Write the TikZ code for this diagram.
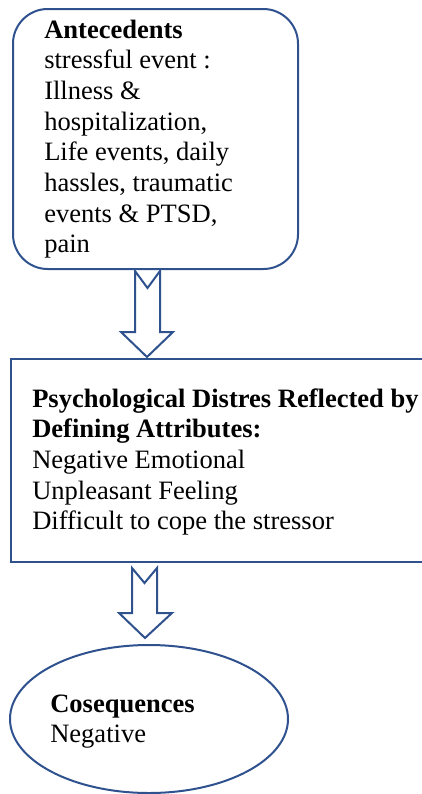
\documentclass[tikz,border=0pt]{standalone}
\usepackage{fontspec}
\setmainfont{Liberation Serif}
\usetikzlibrary{shapes.geometric}
\definecolor{frame}{HTML}{2F528F}
\begin{document}
\begin{tikzpicture}[x=0.75pt,y=-0.75pt,
  box/.style={draw=frame,line width=1.5pt,inner sep=0pt},
  txt/.style={anchor=north west,align=left,inner sep=0pt,font=\fontsize{19.9}{23}\selectfont},
  blockarrow/.style={draw=frame,line width=1.5pt,fill=white,line join=miter}]
\useasboundingbox (0,0) rectangle (422,794);
\clip (0,0) rectangle (422,794);
% boxes
\node[box,rounded corners=26pt,minimum width=213.75pt,minimum height=195pt] (ante) at (155.5,139) {};
\node[box,minimum width=309.75pt,minimum height=152.25pt] (attr) at (217.5,460.5) {};
\node[box,ellipse,minimum width=208.5pt,minimum height=111pt] (cons) at (149,719) {};
% texts
\node[txt] (antetext) at (44,16.5) {\strut\textbf{Antecedents}\\stressful event :\\Illness \&\\hospitalization,\\Life events, daily\\hassles, traumatic\\events \& PTSD,\\pain};
\node[txt] (attrtext) at (32,385.5) {\strut\textbf{Psychological Distres Reflected by}\\\textbf{Defining Attributes:}\\Negative Emotional\\Unpleasant Feeling\\Difficult to cope the stressor};
\node[txt] (constext) at (50,690.5) {\strut\textbf{Cosequences}\\Negative};
% block arrows
\draw[blockarrow] (135,271) -- (147.5,288) -- (160,271) -- (160,332) -- (173,332) -- (147,357) -- (121,332) -- (135,332) -- cycle;
\draw[blockarrow] (132,568) -- (144.5,583) -- (157,568) -- (157,613) -- (172,613) -- (145,638) -- (119,613) -- (132,613) -- cycle;
\end{tikzpicture}
\end{document}
